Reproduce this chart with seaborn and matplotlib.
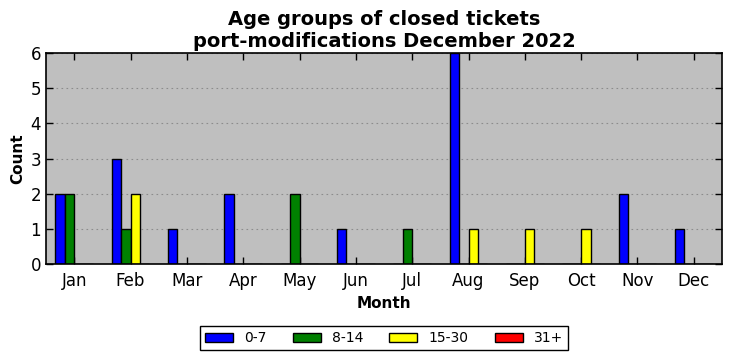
import matplotlib
matplotlib.use("Agg")
import matplotlib.pyplot as plt
import seaborn as sns
import pandas as pd

months = ["Jan", "Feb", "Mar", "Apr", "May", "Jun", "Jul", "Aug", "Sep", "Oct", "Nov", "Dec"]
groups = ["0-7", "8-14", "15-30", "31+"]
age_0_7 = [2, 3, 1, 2, 0, 1, 0, 6, 0, 0, 2, 1]
age_8_14 = [2, 1, 0, 0, 2, 0, 1, 0, 0, 0, 0, 0]
age_15_30 = [0, 2, 0, 0, 0, 0, 0, 1, 1, 1, 0, 0]
age_31_plus = [0, 0, 0, 0, 0, 0, 0, 0, 0, 0, 0, 0]
colors = ["#0000ff", "#008000", "#ffff00", "#ff0000"]

series = [age_0_7, age_8_14, age_15_30, age_31_plus]
rows = []
for g, vals in zip(groups, series):
    for m, v in zip(months, vals):
        rows.append({"Month": m, "Count": v, "Age": g})
df = pd.DataFrame(rows)

sns.set_style("ticks", {"axes.facecolor": "#bfbfbf", "axes.edgecolor": "black",
                        "text.color": "black", "axes.labelcolor": "black",
                        "xtick.color": "black", "ytick.color": "black"})
plt.rcParams["font.family"] = ["DejaVu Sans"]

fig = plt.figure(figsize=(7.32, 3.61), dpi=100)
ax = fig.add_axes([46 / 732, 1 - 264 / 361, 676 / 732, 211 / 361])

sns.barplot(data=df, x="Month", y="Count", hue="Age", order=months, hue_order=groups,
            palette=colors, width=0.667, gap=0, edgecolor="black", linewidth=1,
            saturation=1, errorbar=None, ax=ax, legend=True)

ax.set_xlim(-0.5, 11.5)
ax.set_ylim(0, 6)
ax.set_yticks(range(0, 7))
ax.yaxis.grid(True, linestyle=(0, (1.5, 3)), color="#8c8c8c", linewidth=0.8)
ax.set_axisbelow(True)
ax.tick_params(direction="in", top=True, right=True, length=5, width=1, labelsize=12, colors="black")
ax.tick_params(axis="x", pad=6)
for s in ax.spines.values():
    s.set_linewidth(1.2)
    s.set_visible(True)

ax.set_xlabel("Month", fontsize=11, fontweight="bold", color="black")
ax.set_ylabel("Count", fontsize=11, fontweight="bold", color="black")
ax.set_title("Age groups of closed tickets\nport-modifications December 2022", fontsize=14,
             fontweight="bold", linespacing=1.25, pad=4, color="black")

handles, labels = ax.get_legend_handles_labels()
ax.legend_.remove()
leg = fig.legend(handles, labels, loc="center", bbox_to_anchor=(384 / 732, 1 - 338 / 361), ncol=4,
                 frameon=True, fancybox=False, edgecolor="black", facecolor="white", framealpha=1,
                 fontsize=10, handlelength=2.0, handleheight=0.6, columnspacing=1.9,
                 borderpad=0.35, handletextpad=0.8)
leg.get_frame().set_linewidth(1.0)

fig.savefig("out.png", dpi=100)
